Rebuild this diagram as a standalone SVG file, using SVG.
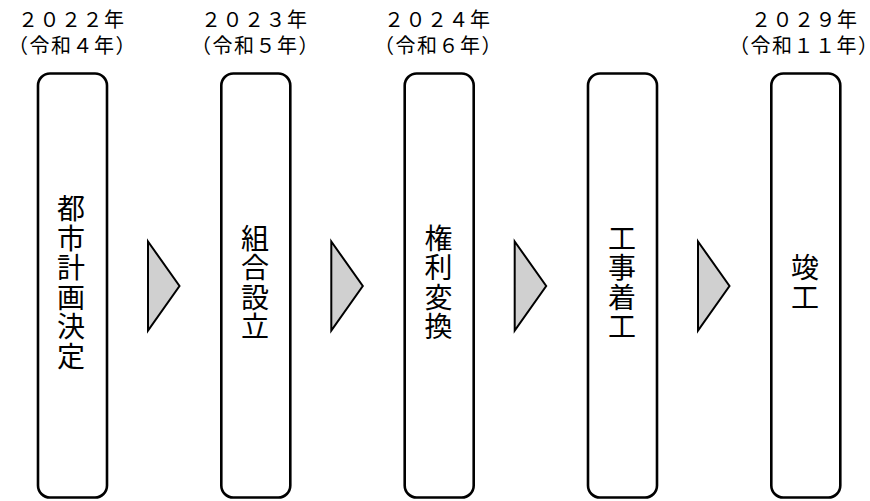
<svg xmlns="http://www.w3.org/2000/svg" width="870" height="501" viewBox="0 0 870 501">
<style>
.box{fill:#fff;stroke:#000;stroke-width:2.6}
.arr{fill:#d0d0d0;stroke:#000;stroke-width:2;stroke-linejoin:miter}
.yr{font-family:"Noto Sans CJK JP","Noto Sans",sans-serif;font-size:20px;letter-spacing:1.5px;fill:#000}
.lb{font-family:"Noto Sans CJK JP","Noto Sans",sans-serif;font-size:28px;letter-spacing:1.5px;fill:#000;text-anchor:middle;writing-mode:vertical-rl}
</style>
<rect width="870" height="501" fill="#fff"/>
<g id="labels">
<text class="yr" x="18" y="27">２０２２年</text>
<text class="yr" x="8" y="53">（令和４年）</text>
<text class="yr" x="201" y="27">２０２３年</text>
<text class="yr" x="191" y="53">（令和５年）</text>
<text class="yr" x="384" y="27">２０２４年</text>
<text class="yr" x="374" y="53">（令和６年）</text>
<text class="yr" x="751" y="27">２０２９年</text>
<text class="yr" x="729" y="53">（令和１１年）</text>
</g>
<g id="node1">
<rect class="box" x="38" y="73.5" width="69" height="424" rx="12"/>
<text class="lb" x="71" y="283">都市計画決定</text>
</g>
<g id="node2">
<rect class="box" x="221.3" y="73.5" width="69" height="424" rx="12"/>
<text class="lb" x="255" y="283">組合設立</text>
</g>
<g id="node3">
<rect class="box" x="404.7" y="73.5" width="69" height="424" rx="12"/>
<text class="lb" x="438.5" y="283">権利変換</text>
</g>
<g id="node4">
<rect class="box" x="588" y="73.5" width="69" height="424" rx="12"/>
<text class="lb" x="622" y="283">工事着工</text>
</g>
<g id="node5">
<rect class="box" x="771.3" y="73.5" width="69" height="424" rx="12"/>
<text class="lb" x="805" y="283">竣工</text>
</g>
<g id="connectors">
<polygon class="arr" points="148,241.5 179.5,286 148,330.5"/>
<polygon class="arr" points="331.3,241.5 362.8,286 331.3,330.5"/>
<polygon class="arr" points="514.7,241.5 546.2,286 514.7,330.5"/>
<polygon class="arr" points="698,241.5 729.5,286 698,330.5"/>
</g>
</svg>
